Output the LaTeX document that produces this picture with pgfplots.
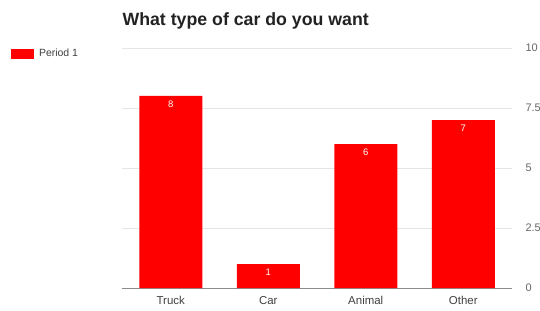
\documentclass[border=0pt]{standalone}
\usepackage{pgfplots}
\pgfplotsset{compat=1.18}
\usepackage{fontspec}
\setmainfont{Liberation Sans}
\definecolor{barred}{HTML}{FF0000}
\definecolor{tickgray}{HTML}{666666}
\definecolor{titlegray}{HTML}{222222}
\begin{document}
\begin{tikzpicture}[x=1bp,y=1bp]
\path[use as bounding box] (0,0) rectangle (540,310);
\begin{axis}[
  at={(122bp,22bp)}, anchor=south west,
  scale only axis, width=390bp, height=240bp,
  ybar, bar width=63bp,
  xmin=-0.5, xmax=3.5, ymin=0, ymax=10,
  xtick=data, xticklabels={Truck,Car,Animal,Other},
  ytick={0,2.5,5,7.5,10},
  yticklabels={0,2.5,5,7.5,10},
  major tick length=0pt,
  separate axis lines,
  axis x line*=bottom, axis y line*=right,
  x axis line style={draw=black!45, line width=0.8pt},
  y axis line style={draw=none},
  ymajorgrids, grid style={black!10, line width=0.6pt},
  xticklabel style={font=\fontsize{11.5}{12}\selectfont, text=black!75, yshift=-5bp},
  yticklabel style={font=\fontsize{11}{12}\selectfont, text=tickgray, anchor=west, xshift=10bp},
  /pgf/number format/assume math mode=true,
  title={\bfseries What type of car do you want},
  title style={at={(0,1)}, anchor=south west, font=\fontsize{17.8}{19}\selectfont, text=titlegray, yshift=9bp, xshift=-3bp},
  nodes near coords,
  nodes near coords style={font=\fontsize{9.5}{10}\selectfont, text=white, anchor=north, yshift=-1bp},
  legend style={at={(-0.285,0.976)}, anchor=west, draw=none, fill=none, font=\fontsize{10.5}{11}\selectfont, text=black!75, inner sep=0pt},
  legend cell align=left,
  clip=false,
]
\addplot[fill=barred, draw=none, legend image code/.code={\fill[barred] (0bp,-5bp) rectangle (23bp,5bp);}] coordinates {(0,8) (1,1) (2,6) (3,7)};
\addlegendentry{\hspace*{3bp}Period 1}
\end{axis}
\end{tikzpicture}
\end{document}
